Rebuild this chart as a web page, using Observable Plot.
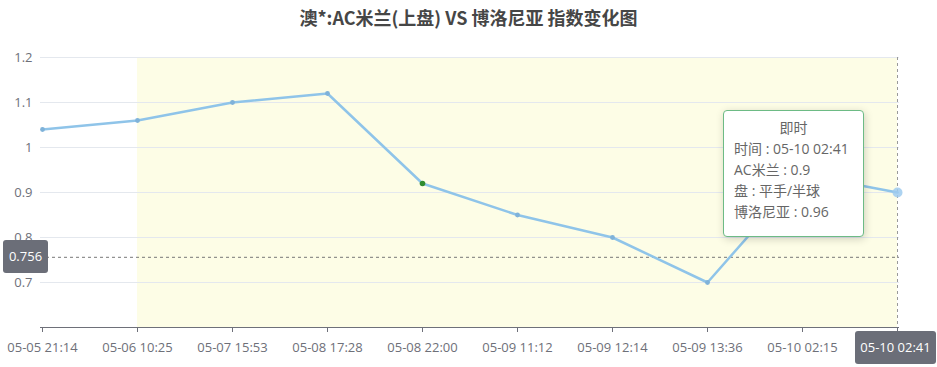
<!DOCTYPE html>
<html>
<head>
<meta charset="utf-8">
<script src="https://cdn.jsdelivr.net/npm/d3@7"></script>
<script src="https://cdn.jsdelivr.net/npm/@observablehq/plot@0.6"></script>
<style>
  html, body { margin: 0; padding: 0; background: #fff; }
  #wrap { position: relative; width: 937px; height: 367px; font-family: "Open Sans", "Noto Sans CJK SC", sans-serif; }
  #wrap svg { position: absolute; left: 0; top: 0; }
  .title { position: absolute; left: 0; width: 937px; top: 4px; text-align: center; font-family: "Noto Sans CJK SC", sans-serif; font-size: 18px; font-weight: bold; color: #464646; line-height: 26px; }
  .ptr { position: absolute; background: #6b6e78; color: #fff; font-size: 13px; border-radius: 3px; text-align: center; line-height: 33px; height: 33px; }
  .tip { position: absolute; background: #fff; border: 1px solid #6dbb85; border-radius: 4px; box-shadow: 1px 2px 8px rgba(0,0,0,0.18); color: #666; font-size: 14px; line-height: 21px; padding: 6px 10px; box-sizing: border-box; }
  .tip .head { text-align: center; }
</style>
</head>
<body>
<div id="wrap"></div>
<script>
const titleText = "澳*:AC米兰(上盘) VS 博洛尼亚 指数变化图";
const times = ["05-05 21:14","05-06 10:25","05-07 15:53","05-08 17:28","05-08 22:00","05-09 11:12","05-09 12:14","05-09 13:36","05-10 02:15","05-10 02:41"];
const homeOdds = [1.04, 1.06, 1.1, 1.12, 0.92, 0.85, 0.8, 0.7, 0.94, 0.9];
const yTicks = [0.7, 0.8, 0.9, 1, 1.1, 1.2];
const greenTimes = ["05-08 22:00"];
const areaRange = ["05-06 10:25", "05-10 02:41"];
const pointerY = 0.756;
const pointerX = "05-10 02:41";
const tipLines = ["即时", "时间 : 05-10 02:41", "AC米兰 : 0.9", "盘 : 平手/半球", "博洛尼亚 : 0.96"];

const data = times.map((t, i) => ({t, v: homeOdds[i]}));
const last = data[data.length - 1];

const chart = Plot.plot({
  width: 937,
  height: 367,
  marginLeft: 40,
  marginRight: 38,
  marginTop: 57,
  marginBottom: 40,
  style: {fontFamily: "'Open Sans', 'Noto Sans CJK SC', sans-serif", fontSize: "13px", color: "#6e7079", background: "transparent", overflow: "visible"},
  x: {type: "point", domain: times, padding: 0, tickSize: 5, tickPadding: 10, label: null, tickFormat: d => d === pointerX ? "" : d},
  y: {domain: [0.6, 1.2], ticks: yTicks, tickSize: 0, tickPadding: 8, tickFormat: d => String(d), label: null},
  marks: [
    Plot.rect([{x1: areaRange[0], x2: areaRange[1]}], {x1: "x1", x2: "x2", fill: "#fdfde6"}),
    Plot.ruleY(yTicks, {stroke: "#e4e8ee", strokeWidth: 1}),
    Plot.ruleY([0.6], {stroke: "#6e7079", strokeWidth: 1}),
    Plot.ruleY([pointerY], {stroke: "#777", strokeWidth: 1, strokeDasharray: "3,3"}),
    Plot.ruleX([pointerX], {stroke: "#999", strokeWidth: 1, strokeDasharray: "3,3"}),
    Plot.line(data, {x: "t", y: "v", stroke: "#8fc4e9", strokeWidth: 2.5}),
    Plot.dot(data.filter(d => !greenTimes.includes(d.t) && d.t !== pointerX), {x: "t", y: "v", r: 2.4, fill: "#7fb2d9"}),
    Plot.dot(data.filter(d => greenTimes.includes(d.t)), {x: "t", y: "v", r: 2.8, fill: "#2e8b2e"}),
    Plot.dot([last], {x: "t", y: "v", r: 5, fill: "#9fcbee", fillOpacity: 0.85})
  ]
});

const wrap = document.getElementById("wrap");
wrap.appendChild(chart);

const title = document.createElement("div");
title.className = "title";
title.textContent = titleText;
wrap.appendChild(title);

const ys = chart.scale("y");
const xs = chart.scale("x");

const py = ys.apply(pointerY);
const yBox = document.createElement("div");
yBox.className = "ptr";
yBox.style.left = "3px";
yBox.style.width = "45px";
yBox.style.top = (py - 16.5) + "px";
yBox.textContent = String(pointerY);
wrap.appendChild(yBox);

const px = xs.apply(pointerX);
const xBox = document.createElement("div");
xBox.className = "ptr";
const bw = 81;
xBox.style.left = Math.min(px - bw / 2, 936 - bw) + "px";
xBox.style.width = bw + "px";
xBox.style.top = (ys.apply(0.6) + 4) + "px";
xBox.textContent = pointerX;
wrap.appendChild(xBox);

const tip = document.createElement("div");
tip.className = "tip";
tip.style.left = "723px";
tip.style.top = "110px";
tip.style.width = "141px";
tip.style.height = "127px";
tipLines.forEach((s, i) => {
  const d = document.createElement("div");
  if (i === 0) d.className = "head";
  d.textContent = s;
  tip.appendChild(d);
});
wrap.appendChild(tip);
</script>
</body>
</html>
